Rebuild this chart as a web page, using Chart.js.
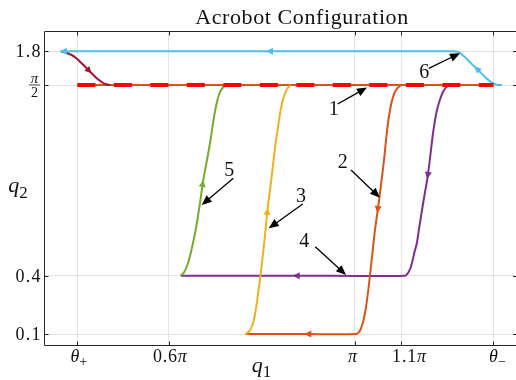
<!DOCTYPE html>
<html>
<head>
<meta charset="utf-8">
<title>Acrobot Configuration</title>
<script src="https://cdn.jsdelivr.net/npm/chart.js@4.4.1/dist/chart.umd.min.js"></script>
<style>
html,body{margin:0;padding:0;background:#ffffff;overflow:hidden;width:516px;height:380px;}
canvas{display:block;}
</style>
</head>
<body>
<canvas id="chart" width="520" height="380"></canvas>
<script>
// ===== values (q1 in multiples of pi, q2 in rad) =====
const thetaPlus = 0.403;
const thetaMinus = 1.299;

const xTickValues = [thetaPlus, 0.6, 1.0, 1.1, thetaMinus];
const xTickLabels = ['θ_+', '0.6π', 'π', '1.1π', 'θ_−'];
const yTickValues = [0.1, 0.4, 1.5708, 1.8];
const yTickLabels = ['0.1', '0.4', 'π/2', '1.8'];

// target configuration q2 = pi/2 between theta+ and theta-
const targetQ1 = [thetaPlus, thetaMinus];
const targetQ2 = [1.5708, 1.5708];

// path 6 (light blue), in travel order
const blueQ1 = [1.3174, 1.3098, 1.3023, 1.2948, 1.2873, 1.2797, 1.2722, 1.2651, 1.2578, 1.2507, 1.2431, 1.2356, 1.2291, 1.2227, 1.2141, 0.8092, 0.3656];
const blueQ2 = [1.5708, 1.5708, 1.5762, 1.5885, 1.6062, 1.6293, 1.6531, 1.6762, 1.6966, 1.7191, 1.7429, 1.7660, 1.7837, 1.7953, 1.8, 1.8, 1.8];
const blueArrows = [8, 15, 16];

// dark red return path
const darkRedQ1 = [0.3693, 0.3786, 0.3908, 0.4001, 0.4087, 0.4174, 0.4266, 0.4339, 0.4447, 0.4539, 0.4625, 0.4733];
const darkRedQ2 = [1.7973, 1.7899, 1.7749, 1.7545, 1.7293, 1.7035, 1.6728, 1.6504, 1.6164, 1.5946, 1.5776, 1.5708];
const darkRedArrows = [7];

// path 5 (green)
const greenQ1 = [0.6255, 0.6326, 0.6391, 0.6456, 0.6520, 0.6585, 0.6661, 0.6742, 0.6822, 0.6897, 0.6962, 0.7026, 0.7091, 0.7155, 0.7231];
const greenQ2 = [0.4, 0.4196, 0.4595, 0.5209, 0.6007, 0.6928, 0.8279, 0.9875, 1.1103, 1.2331, 1.3559, 1.4541, 1.5217, 1.5524, 1.5708];
const greenArrows = [7];

// path 3 (yellow)
const yellowQ1 = [0.7646, 0.7726, 0.7791, 0.7845, 0.7888, 0.7926, 0.7963, 0.8007, 0.8060, 0.8129, 0.8200, 0.8286, 0.8351, 0.8415, 0.8480, 0.8544, 0.8620];
const yellowQ2 = [0.1, 0.1129, 0.1412, 0.1875, 0.2492, 0.3161, 0.3830, 0.4841, 0.6192, 0.8156, 0.9752, 1.1839, 1.3128, 1.4295, 1.5031, 1.5461, 1.5708];
const yellowArrows = [9];

// path 2 (orange), travel order
const orangeQ1 = [1.0993, 1.0891, 1.0827, 1.0762, 1.0698, 1.0633, 1.0568, 1.0489, 1.0439, 1.0396, 1.0353, 1.0310, 1.0267, 1.0224, 1.0170, 1.0106, 1.0030, 0.8917, 0.7646];
const orangeQ2 = [1.5708, 1.5400, 1.4970, 1.4172, 1.2883, 1.1103, 0.9568, 0.7849, 0.6806, 0.5700, 0.4595, 0.3573, 0.2750, 0.2081, 0.1515, 0.1129, 0.1, 0.1, 0.1];
const orangeArrows = [7, 17];

// path 4 (purple), travel order
const purpleQ1 = [1.2022, 1.1957, 1.1893, 1.1828, 1.1764, 1.1695, 1.1624, 1.1566, 1.1505, 1.1445, 1.1387, 1.1337, 1.1290, 1.1246, 1.1203, 1.1150, 1.1085, 0.8667, 0.6255];
const purpleQ2 = [1.5708, 1.5524, 1.5217, 1.4725, 1.4049, 1.2883, 1.1225, 0.9936, 0.8954, 0.7910, 0.6867, 0.5946, 0.5455, 0.4902, 0.4473, 0.4166, 0.4, 0.4, 0.4];
const purpleArrows = [7, 17];

// numbered callouts
const calloutText = ['1', '2', '3', '4', '5', '6'];
const calloutLabelQ1 = [0.9552, 0.9744, 0.8846, 0.8917, 0.7302, 1.1501];
const calloutLabelQ2 = [1.4276, 1.0998, 0.8954, 0.6192, 1.0532, 1.6660];
const calloutTailQ1 = [0.9636, 0.9922, 0.8883, 0.9153, 0.7388, 1.1596];
const calloutTailQ2 = [1.4540, 1.0489, 0.8401, 0.5780, 0.9979, 1.6844];
const calloutTipQ1 = [1.0267, 1.0547, 0.8150, 0.9815, 0.6708, 1.2270];
const calloutTipQ2 = [1.5554, 0.8788, 0.6910, 0.4043, 0.8340, 1.7864];

const titleText = 'Acrobot Configuration';
const xLabelText = 'q_1';
const yLabelText = 'q_2';

// ===== q2 axis: tick spacing of the original is not uniform -> piecewise scale =====
const yBreakValues = [0.1, 0.4, 1.5708, 1.8];
const yBreakPos = [11.5, 69.8, 260.5, 294.2];
const yAxisTop = 313.5;
function warpY(v) {
  let i = 0;
  if (v > yBreakValues[1]) i = 1;
  if (v > yBreakValues[2]) i = 2;
  const t = (v - yBreakValues[i]) / (yBreakValues[i + 1] - yBreakValues[i]);
  return yBreakPos[i] + t * (yBreakPos[i + 1] - yBreakPos[i]);
}

const SERIF = '"Liberation Serif", "Times New Roman", serif';
const AXIS_COLOR = '#262626';

function pts(q1, q2) { return q1.map((x, i) => ({ x: x, y: warpY(q2[i]) })); }
function series(label, q1, q2, color, arrows, extra) {
  return Object.assign({
    label: label, data: pts(q1, q2), borderColor: color, backgroundColor: color,
    borderWidth: 2, pointRadius: 0, showLine: true, tension: 0.3, fill: false, arrows: arrows || []
  }, extra || {});
}

const datasets = [
  series('target', targetQ1, targetQ2, '#FF0000', [], { borderWidth: 4, borderDash: [18, 18.5], borderCapStyle: 'butt', tension: 0 }),
  series('darkred', darkRedQ1, darkRedQ2, '#A2142F', darkRedArrows),
  series('blue', blueQ1, blueQ2, '#4DBEEE', blueArrows),
  series('green', greenQ1, greenQ2, '#77AC30', greenArrows),
  series('yellow', yellowQ1, yellowQ2, '#EDB120', yellowArrows),
  series('orange', orangeQ1, orangeQ2, '#D95319', orangeArrows),
  series('purple', purpleQ1, purpleQ2, '#7E2F8E', purpleArrows),
  series('path1', targetQ1, targetQ2, '#D95319', [], { tension: 0 })
];

function setSpacing(ctx, px) { if ('letterSpacing' in ctx) ctx.letterSpacing = px + 'px'; }

function drawMath(ctx, str, x, y, size, align, spacing) {
  ctx.fillStyle = '#111';
  ctx.textAlign = 'left';
  ctx.textBaseline = 'alphabetic';
  setSpacing(ctx, 0);
  if (str.indexOf('/') >= 0) {
    const parts = str.split('/');
    ctx.font = 'italic ' + (size + 1) + 'px ' + SERIF;
    let w = ctx.measureText(parts[0]).width;
    ctx.fillText(parts[0], x - w / 2, y - 2.5);
    ctx.font = size + 'px ' + SERIF;
    w = ctx.measureText(parts[1]).width;
    ctx.fillText(parts[1], x - w / 2, y + 11.7);
    ctx.strokeStyle = '#111'; ctx.lineWidth = 0.8;
    ctx.beginPath(); ctx.moveTo(x - 5.5, y); ctx.lineTo(x + 5.5, y); ctx.stroke();
    return;
  }
  const bits = str.split('_');
  const segs = [];
  let run = '';
  const flush = () => { if (run) { segs.push({ t: run, f: size + 'px ' + SERIF, dy: 0, sp: spacing || 0 }); run = ''; } };
  for (const ch of bits[0]) {
    if (/[0-9.]/.test(ch)) { run += ch; }
    else { flush(); segs.push({ t: ch, f: 'italic ' + size + 'px ' + SERIF, dy: 0, sp: 0 }); }
  }
  flush();
  if (bits[1]) segs.push({ t: bits[1], f: Math.round(size * 0.75) + 'px ' + SERIF, dy: size * 0.27, sp: 0 });
  let total = 0;
  segs.forEach(s => { ctx.font = s.f; setSpacing(ctx, s.sp); s.w = ctx.measureText(s.t).width; total += s.w; });
  let cx = align === 'center' ? x - total / 2 : (align === 'right' ? x - total : x);
  segs.forEach(s => { ctx.font = s.f; setSpacing(ctx, s.sp); ctx.fillText(s.t, cx, y + s.dy); cx += s.w; });
  setSpacing(ctx, 0);
}

function arrowHead(ctx, x1, y1, x2, y2, len, half, color) {
  const ang = Math.atan2(y2 - y1, x2 - x1);
  ctx.save();
  ctx.translate(x2, y2); ctx.rotate(ang);
  ctx.fillStyle = color;
  ctx.beginPath(); ctx.moveTo(0, 0); ctx.lineTo(-len, -half); ctx.lineTo(-len, half); ctx.closePath(); ctx.fill();
  ctx.restore();
}

const decor = {
  id: 'decor',
  afterDatasetsDraw(chart) {
    const ctx = chart.ctx, xs = chart.scales.x, ys = chart.scales.y, a = chart.chartArea;
    const P = (q1, q2) => [xs.getPixelForValue(q1), ys.getPixelForValue(warpY(q2))];
    ctx.save();
    // direction arrows on the paths
    chart.data.datasets.forEach(ds => {
      ds.arrows.forEach(k => {
        const d = ds.data;
        const prev = d[k - 1], next = d[k + 1] || d[k];
        const p0 = [xs.getPixelForValue(prev.x), ys.getPixelForValue(prev.y)];
        const p1 = [xs.getPixelForValue(next.x), ys.getPixelForValue(next.y)];
        const tip = [xs.getPixelForValue(d[k].x), ys.getPixelForValue(d[k].y)];
        const dx = p1[0] - p0[0], dy = p1[1] - p0[1];
        arrowHead(ctx, tip[0] - dx, tip[1] - dy, tip[0], tip[1], 7, 3.5, ds.borderColor);
      });
    });
    // numbered callouts
    calloutText.forEach((t, i) => {
      const tail = P(calloutTailQ1[i], calloutTailQ2[i]);
      const tip = P(calloutTipQ1[i], calloutTipQ2[i]);
      const lab = P(calloutLabelQ1[i], calloutLabelQ2[i]);
      const ang = Math.atan2(tip[1] - tail[1], tip[0] - tail[0]);
      ctx.strokeStyle = '#000'; ctx.lineWidth = 1.3;
      ctx.beginPath(); ctx.moveTo(tail[0], tail[1]);
      ctx.lineTo(tip[0] - 8 * Math.cos(ang), tip[1] - 8 * Math.sin(ang)); ctx.stroke();
      arrowHead(ctx, tail[0], tail[1], tip[0], tip[1], 10, 4.2, '#000');
      ctx.font = '20px ' + SERIF; ctx.fillStyle = '#111'; ctx.textAlign = 'center'; ctx.textBaseline = 'alphabetic';
      ctx.fillText(t, lab[0], lab[1] + 6.6);
    });
    // box and inward ticks
    const L = Math.floor(a.left) + 0.5, T = Math.floor(a.top) - 0.5, B = Math.floor(a.bottom) + 0.5, R = a.right;
    ctx.strokeStyle = AXIS_COLOR; ctx.lineWidth = 1;
    ctx.beginPath();
    ctx.moveTo(R, T); ctx.lineTo(L, T); ctx.lineTo(L, B); ctx.lineTo(R, B);
    xTickValues.forEach(v => {
      const px = Math.round(xs.getPixelForValue(v)) + 0.5;
      ctx.moveTo(px, T); ctx.lineTo(px, T + 4);
      ctx.moveTo(px, B); ctx.lineTo(px, B - 4);
    });
    yTickValues.forEach(v => {
      const py = Math.round(ys.getPixelForValue(warpY(v))) + 0.5;
      ctx.moveTo(L, py); ctx.lineTo(L + 4, py);
      ctx.moveTo(R, py); ctx.lineTo(R - 4, py);
    });
    ctx.stroke();
    // tick labels
    const xLabelShift = [1.5, 1, -2, 8, 4];
    xTickValues.forEach((v, i) => {
      drawMath(ctx, xTickLabels[i], xs.getPixelForValue(v) + xLabelShift[i], a.bottom + 16, 18, 'center', 0.8);
    });
    yTickValues.forEach((v, i) => {
      const py = ys.getPixelForValue(warpY(v));
      if (yTickLabels[i].indexOf('/') >= 0) drawMath(ctx, yTickLabels[i], a.left - 9.8, py, 14, 'center');
      else drawMath(ctx, yTickLabels[i], a.left - 2.6, py + 5.8, 18, 'right', 1.2);
    });
    // axis labels and title
    drawMath(ctx, xLabelText, a.left + 207.5, 371.5, 22, 'left');
    drawMath(ctx, yLabelText, 8.3, (a.top + a.bottom) / 2 + 3, 22, 'left');
    ctx.font = '22px ' + SERIF; ctx.fillStyle = '#111'; ctx.textAlign = 'center'; ctx.textBaseline = 'alphabetic';
    setSpacing(ctx, 0.6);
    ctx.fillText(titleText, 302, 24);
    setSpacing(ctx, 0);
    ctx.restore();
  }
};

new Chart(document.getElementById('chart'), {
  type: 'scatter',
  data: { datasets: datasets },
  options: {
    responsive: false,
    animation: false,
    layout: { padding: { top: 32, right: 3, bottom: 0, left: 0 } },
    plugins: { legend: { display: false }, tooltip: { enabled: false }, title: { display: false } },
    scales: {
      x: {
        type: 'linear', min: 0.3318, max: 1.3497,
        afterBuildTicks: s => { s.ticks = xTickValues.map(v => ({ value: v })); },
        afterFit: s => { s.height = 34.5; },
        ticks: { display: false },
        grid: { color: '#e4e4e4', lineWidth: 1, drawTicks: false },
        border: { display: false }
      },
      y: {
        type: 'linear', min: 0, max: yAxisTop,
        afterBuildTicks: s => { s.ticks = yTickValues.map(v => ({ value: warpY(v) })); },
        afterFit: s => { s.width = 44.3; },
        ticks: { display: false },
        grid: { color: '#e4e4e4', lineWidth: 1, drawTicks: false },
        border: { display: false }
      }
    }
  },
  plugins: [decor]
});
</script>
</body>
</html>
